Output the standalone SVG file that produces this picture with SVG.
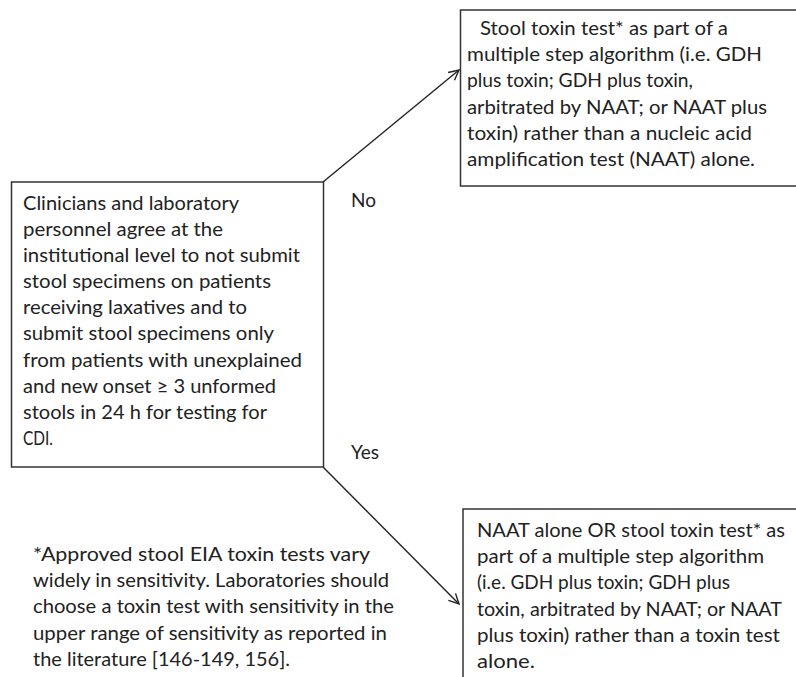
<svg xmlns="http://www.w3.org/2000/svg" width="796" height="677" viewBox="0 0 796 677">
<style>
.box{fill:#fff;stroke:#333;stroke-width:1.5}
text{font-family:Lato,"Liberation Sans",sans-serif;font-size:19px;fill:#222}
.conn{stroke:#222;stroke-width:1.4;fill:none}
</style>
<defs>
<marker id="arr" viewBox="0 0 12 12" refX="11" refY="6" markerWidth="12" markerHeight="12" markerUnits="userSpaceOnUse" orient="auto">
<path d="M1,1 L11,6 L1,11" fill="none" stroke="#222" stroke-width="1.4"/>
</marker>
</defs>
<rect width="796" height="677" fill="#fff"/>
<g id="connectors">
<line class="conn" x1="323" y1="182" x2="459" y2="70" marker-end="url(#arr)"/>
<line class="conn" x1="323" y1="467" x2="459" y2="604" marker-end="url(#arr)"/>
<text x="351" y="207">No</text>
<text x="351" y="459">Yes</text>
</g>
<g id="start">
<rect class="box" x="11.5" y="182" width="312" height="285"/>
<text x="23" y="210" textLength="216" lengthAdjust="spacingAndGlyphs">Clinicians and laboratory</text>
<text x="23" y="236" textLength="200" lengthAdjust="spacingAndGlyphs">personnel agree at the</text>
<text x="23" y="262" textLength="277" lengthAdjust="spacingAndGlyphs">institutional level to not submit</text>
<text x="23" y="288" textLength="248" lengthAdjust="spacingAndGlyphs">stool specimens on patients</text>
<text x="23" y="314" textLength="224" lengthAdjust="spacingAndGlyphs">receiving laxatives and to</text>
<text x="23" y="340" textLength="251" lengthAdjust="spacingAndGlyphs">submit stool specimens only</text>
<text x="23" y="367" textLength="279" lengthAdjust="spacingAndGlyphs">from patients with unexplained</text>
<text x="23" y="393" textLength="253" lengthAdjust="spacingAndGlyphs">and new onset ≥ 3 unformed</text>
<text x="23" y="419" textLength="244" lengthAdjust="spacingAndGlyphs">stools in 24 h for testing for</text>
<text x="23" y="445" textLength="30" lengthAdjust="spacingAndGlyphs">CDI.</text>
</g>
<g id="no-result">
<rect class="box" x="460.5" y="10" width="345" height="176"/>
<text x="480" y="35" textLength="248" lengthAdjust="spacingAndGlyphs">Stool toxin test* as part of a</text>
<text x="467" y="61" textLength="295" lengthAdjust="spacingAndGlyphs">multiple step algorithm (i.e. GDH</text>
<text x="467" y="87" textLength="226" lengthAdjust="spacingAndGlyphs">plus toxin; GDH plus toxin,</text>
<text x="467" y="114" textLength="300" lengthAdjust="spacingAndGlyphs">arbitrated by NAAT; or NAAT plus</text>
<text x="467" y="140" textLength="285" lengthAdjust="spacingAndGlyphs">toxin) rather than a nucleic acid</text>
<text x="467" y="166" textLength="288" lengthAdjust="spacingAndGlyphs">amplification test (NAAT) alone.</text>
</g>
<g id="yes-result">
<rect class="box" x="463" y="509" width="345" height="190"/>
<text x="477" y="537" textLength="308" lengthAdjust="spacingAndGlyphs">NAAT alone OR stool toxin test* as</text>
<text x="477" y="563" textLength="287" lengthAdjust="spacingAndGlyphs">part of a multiple step algorithm</text>
<text x="477" y="589" textLength="253" lengthAdjust="spacingAndGlyphs">(i.e. GDH plus toxin; GDH plus</text>
<text x="477" y="616" textLength="305" lengthAdjust="spacingAndGlyphs">toxin, arbitrated by NAAT; or NAAT</text>
<text x="477" y="642" textLength="303" lengthAdjust="spacingAndGlyphs">plus toxin) rather than a toxin test</text>
<text x="477" y="668" textLength="58" lengthAdjust="spacingAndGlyphs">alone.</text>
</g>
<g id="footnote">
<text x="33" y="561" textLength="337" lengthAdjust="spacingAndGlyphs">*Approved  stool EIA toxin tests vary</text>
<text x="33" y="587" textLength="356" lengthAdjust="spacingAndGlyphs">widely in sensitivity. Laboratories should</text>
<text x="33" y="613" textLength="361" lengthAdjust="spacingAndGlyphs">choose a toxin test with sensitivity in the</text>
<text x="33" y="640" textLength="354" lengthAdjust="spacingAndGlyphs">upper range of sensitivity as reported in</text>
<text x="33" y="666" textLength="257" lengthAdjust="spacingAndGlyphs">the literature [146-149, 156].</text>
</g>
</svg>
